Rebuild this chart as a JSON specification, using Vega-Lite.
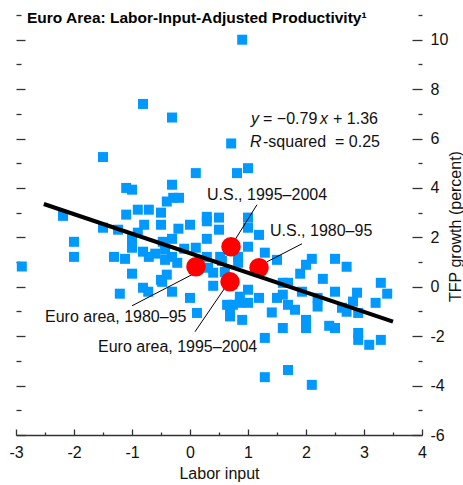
{
  "$schema": "https://vega.github.io/schema/vega-lite/v6.json",
  "width": 406,
  "height": 420,
  "autosize": "none",
  "padding": {"left": 16, "top": 15, "right": 41, "bottom": 50},
  "background": "white",
  "title": {
    "text": "Euro Area: Labor-Input-Adjusted Productivity¹",
    "anchor": "start",
    "frame": "group",
    "font": "Liberation Sans Narrow, Liberation Sans, sans-serif",
    "fontSize": 15.5,
    "fontWeight": "bold",
    "color": "#000000",
    "dx": 11,
    "dy": 21,
    "offset": -10,
    "baseline": "alphabetic"
  },
  "config": {
    "view": {"stroke": null},
    "font": "Liberation Sans, Arial, sans-serif",
    "axis": {
      "labelFont": "Liberation Sans, Arial, sans-serif",
      "titleFont": "Liberation Sans, Arial, sans-serif",
      "labelFontSize": 16,
      "titleFontSize": 16,
      "titleFontWeight": "normal",
      "labelColor": "#111111",
      "titleColor": "#111111",
      "tickColor": "#333333",
      "tickWidth": 1.3,
      "domainColor": "#333333",
      "domainWidth": 1.5,
      "grid": false,
      "labelFlush": false,
      "labelOverlap": false,
      "labelBound": false
    }
  },
  "datasets": {
    "countries": [
      {"labor": 0.9, "tfp": 10.0}, {"labor": -0.81, "tfp": 7.4}, {"labor": -0.31, "tfp": 6.85}, {"labor": 0.71, "tfp": 5.8},
      {"labor": -1.5, "tfp": 5.25}, {"labor": 0.1, "tfp": 4.6}, {"labor": 0.81, "tfp": 4.6}, {"labor": 1.0, "tfp": 4.8},
      {"labor": -1.1, "tfp": 4.0}, {"labor": -1.0, "tfp": 3.93}, {"labor": -0.31, "tfp": 4.13}, {"labor": -0.4, "tfp": 3.45},
      {"labor": -0.29, "tfp": 3.6}, {"labor": -0.19, "tfp": 3.6}, {"labor": -0.9, "tfp": 3.12}, {"labor": -0.71, "tfp": 3.12},
      {"labor": -0.5, "tfp": 3.0}, {"labor": -1.1, "tfp": 2.92}, {"labor": -2.19, "tfp": 2.87}, {"labor": -0.79, "tfp": 2.51},
      {"labor": -0.5, "tfp": 2.51}, {"labor": 0.0, "tfp": 2.51}, {"labor": 0.29, "tfp": 2.83}, {"labor": 0.29, "tfp": 2.65},
      {"labor": 0.5, "tfp": 2.8}, {"labor": 0.5, "tfp": 2.31}, {"labor": -0.2, "tfp": 2.35}, {"labor": -1.5, "tfp": 2.39},
      {"labor": -1.24, "tfp": 2.31}, {"labor": 1.0, "tfp": 2.8}, {"labor": 1.0, "tfp": 2.39}, {"labor": 1.19, "tfp": 2.1},
      {"labor": -2.0, "tfp": 1.82}, {"labor": -2.0, "tfp": 1.21}, {"labor": -0.9, "tfp": 2.19}, {"labor": -1.0, "tfp": 1.94},
      {"labor": -1.0, "tfp": 1.58}, {"labor": -0.47, "tfp": 1.82}, {"labor": -0.31, "tfp": 1.94}, {"labor": 0.29, "tfp": 1.94},
      {"labor": 0.1, "tfp": 1.58}, {"labor": -0.1, "tfp": 1.54}, {"labor": 1.0, "tfp": 1.62}, {"labor": -1.31, "tfp": 1.21},
      {"labor": -1.12, "tfp": 1.13}, {"labor": -0.81, "tfp": 1.42}, {"labor": -0.71, "tfp": 1.21}, {"labor": -0.6, "tfp": 1.34},
      {"labor": -0.43, "tfp": 1.5}, {"labor": -0.43, "tfp": 1.09}, {"labor": -0.31, "tfp": 1.21}, {"labor": -0.22, "tfp": 0.97},
      {"labor": 0.29, "tfp": 1.21}, {"labor": 0.52, "tfp": 1.21}, {"labor": 0.83, "tfp": 1.21}, {"labor": 0.83, "tfp": 0.97},
      {"labor": 1.29, "tfp": 1.38}, {"labor": -1.0, "tfp": 0.53}, {"labor": -0.5, "tfp": 0.28}, {"labor": -0.4, "tfp": 0.49},
      {"labor": 0.31, "tfp": 0.77}, {"labor": 0.4, "tfp": 0.57}, {"labor": 1.5, "tfp": 1.09}, {"labor": 2.0, "tfp": 0.89},
      {"labor": 2.1, "tfp": 1.13}, {"labor": 2.5, "tfp": 1.13}, {"labor": 2.7, "tfp": 0.81}, {"labor": 1.9, "tfp": 0.53},
      {"labor": 2.29, "tfp": 0.32}, {"labor": 1.6, "tfp": 0.16}, {"labor": 1.69, "tfp": 0.16}, {"labor": 3.29, "tfp": 0.16},
      {"labor": 3.4, "tfp": -0.28}, {"labor": 0.4, "tfp": 0.04}, {"labor": -1.21, "tfp": -0.28}, {"labor": -0.81, "tfp": -0.04},
      {"labor": -0.72, "tfp": -0.2}, {"labor": -0.31, "tfp": -0.2}, {"labor": 0.0, "tfp": -0.45}, {"labor": 1.0, "tfp": -0.12},
      {"labor": 0.86, "tfp": -0.4}, {"labor": 1.19, "tfp": -0.45}, {"labor": 1.5, "tfp": -0.45}, {"labor": 1.6, "tfp": -0.32},
      {"labor": 1.93, "tfp": -0.2}, {"labor": 2.5, "tfp": -0.2}, {"labor": 2.88, "tfp": -0.24}, {"labor": 3.2, "tfp": -0.65},
      {"labor": -2.9, "tfp": 0.82}, {"labor": 0.12, "tfp": -1.06}, {"labor": 0.64, "tfp": -0.73}, {"labor": 0.74, "tfp": -0.73},
      {"labor": 0.86, "tfp": -0.65}, {"labor": 1.0, "tfp": -0.65}, {"labor": 0.69, "tfp": -1.2}, {"labor": 0.69, "tfp": -1.0},
      {"labor": 0.9, "tfp": -1.34}, {"labor": 1.41, "tfp": -1.04}, {"labor": 1.69, "tfp": -0.73}, {"labor": 1.81, "tfp": -0.93},
      {"labor": 1.6, "tfp": -1.67}, {"labor": 2.0, "tfp": -1.34}, {"labor": 2.0, "tfp": -1.67}, {"labor": 2.2, "tfp": -0.8},
      {"labor": 2.2, "tfp": -0.45}, {"labor": 2.4, "tfp": -1.58}, {"labor": 2.5, "tfp": -1.67}, {"labor": 2.62, "tfp": -0.85},
      {"labor": 2.7, "tfp": -1.01}, {"labor": 2.81, "tfp": -0.6}, {"labor": 2.9, "tfp": -1.06}, {"labor": 2.9, "tfp": -1.87},
      {"labor": 2.9, "tfp": -2.15}, {"labor": 3.09, "tfp": -2.35}, {"labor": 3.29, "tfp": -2.15}, {"labor": 1.29, "tfp": -2.07},
      {"labor": 1.29, "tfp": -3.66}, {"labor": 1.69, "tfp": -3.37}, {"labor": 2.1, "tfp": -3.97}, {"labor": -0.48, "tfp": 0.2},
      {"labor": 0.55, "tfp": 1.05}, {"labor": 0.6, "tfp": 0.6}
    ],
    "us_euro": [
      {"labor": 0.707, "tfp": 1.62, "name": "U.S., 1995–2004"},
      {"labor": 1.19, "tfp": 0.77, "name": "U.S., 1980–95"},
      {"labor": 0.103, "tfp": 0.81, "name": "Euro area, 1980–95"},
      {"labor": 0.69, "tfp": 0.2, "name": "Euro area, 1995–2004"}
    ],
    "fit": [
      {"labor": -2.52, "tfp": 3.35},
      {"labor": 3.5, "tfp": -1.41}
    ],
    "leaders": [
      {"labor": 0.776, "tfp": 1.9, "labor2": 1.155, "tfp2": 3.32},
      {"labor": 1.328, "tfp": 1.01, "labor2": 1.931, "tfp2": 1.74},
      {"labor": 0.034, "tfp": 0.49, "labor2": -1.0, "tfp2": -0.77},
      {"labor": 0.603, "tfp": -0.04, "labor2": 0.086, "tfp2": -1.82}
    ],
    "labels": [
      {"labor": 0.293, "tfp": 3.72, "text": "U.S., 1995–2004"},
      {"labor": 1.379, "tfp": 2.27, "text": "U.S., 1980–95"},
      {"labor": -2.5, "tfp": -1.21, "text": "Euro area, 1980–95"},
      {"labor": -1.586, "tfp": -2.43, "text": "Euro area, 1995–2004"},
      {"labor": 1.259, "tfp": 6.8, "text": "= −0.79"},
      {"labor": 2.466, "tfp": 6.8, "text": "+ 1.36"},
      {"labor": 1.259, "tfp": 5.87, "text": "-squared \u00a0= 0.25"}
    ],
    "italics": [
      {"labor": 1.052, "tfp": 6.8, "text": "y"},
      {"labor": 2.241, "tfp": 6.8, "text": "x"},
      {"labor": 1.034, "tfp": 5.87, "text": "R"}
    ]
  },
  "encoding": {
    "x": {"field": "labor", "type": "quantitative", "scale": {"domain": [-3, 4], "nice": false, "zero": false}, "axis": null},
    "y": {"field": "tfp", "type": "quantitative", "scale": {"domain": [-6, 11], "nice": false, "zero": false}, "axis": null}
  },
  "layer": [
    {
      "data": {"name": "countries"},
      "mark": {"type": "square", "size": 100, "color": "#0099FF", "opacity": 1, "filled": true},
      "encoding": {
        "x": {
          "field": "labor", "type": "quantitative",
          "scale": {"domain": [-3, 4], "nice": false, "zero": false},
          "axis": {
            "orient": "bottom",
            "title": "Labor input",
            "values": [-3, -2.5, -2, -1.5, -1, -0.5, 0, 0.5, 1, 1.5, 2, 2.5, 3, 3.5, 4],
            "labelExpr": "datum.value % 1 === 0 ? '' + datum.value : ''",
            "tickSize": {"condition": {"test": "datum.value % 1 === 0", "value": -6}, "value": -3},
            "labelPadding": 15,
            "domain": true,
            "titlePadding": 2
          }
        },
        "y": {
          "field": "tfp", "type": "quantitative",
          "scale": {"domain": [-6, 11], "nice": false, "zero": false},
          "axis": {
            "orient": "left",
            "title": null,
            "values": [-6, -5, -4, -3, -2, -1, 0, 1, 2, 3, 4, 5, 6, 7, 8, 9, 10, 11],
            "labels": false,
            "domain": false,
            "tickSize": {"condition": {"test": "datum.value % 2 === 0", "value": -9}, "value": -5}
          }
        }
      }
    },
    {
      "data": {"values": [{}]},
      "mark": {"type": "rule", "color": "#000000", "strokeWidth": 1.5},
      "encoding": {
        "y": {"datum": 0, "type": "quantitative", "scale": {"domain": [-6, 11], "nice": false, "zero": false}, "axis": null}
      }
    },
    {
      "data": {"name": "leaders"},
      "mark": {"type": "rule", "color": "#000000", "strokeWidth": 1},
      "encoding": {
        "x2": {"field": "labor2"},
        "y2": {"field": "tfp2"}
      }
    },
    {
      "data": {"name": "us_euro"},
      "mark": {"type": "circle", "size": 380, "color": "#FF0000", "opacity": 1},
      "encoding": {
        "y": {
          "field": "tfp", "type": "quantitative",
          "scale": {"domain": [-6, 11], "nice": false, "zero": false},
          "axis": {
            "orient": "right",
            "title": "TFP growth (percent)",
            "titleAngle": -90,
            "titleAlign": "center",
            "titleBaseline": "middle",
            "titleX": 33,
            "titleY": 211,
            "values": [-6, -5, -4, -3, -2, -1, 0, 1, 2, 3, 4, 5, 6, 7, 8, 9, 10, 11],
            "labelExpr": "datum.value % 2 === 0 && datum.value <= 10 ? '' + datum.value : ''",
            "labelAlign": "left",
            "labelBaseline": "middle",
            "domain": false,
            "tickSize": {"condition": {"test": "datum.value % 2 === 0", "value": -10}, "value": -4},
            "labelPadding": 18
          }
        }
      }
    },
    {
      "data": {"name": "fit"},
      "mark": {"type": "line", "color": "#000000", "strokeWidth": 4, "strokeCap": "butt"}
    },
    {
      "data": {"name": "labels"},
      "mark": {"type": "text", "align": "left", "baseline": "middle", "fontSize": 16, "color": "#111111", "font": "Liberation Sans, Arial, sans-serif"},
      "encoding": {"text": {"field": "text"}}
    },
    {
      "data": {"name": "italics"},
      "mark": {"type": "text", "align": "left", "baseline": "middle", "fontSize": 16, "fontStyle": "italic", "color": "#111111", "font": "Liberation Sans, Arial, sans-serif"},
      "encoding": {"text": {"field": "text"}}
    }
  ],
  "resolve": {"axis": {"x": "independent", "y": "independent"}}
}
